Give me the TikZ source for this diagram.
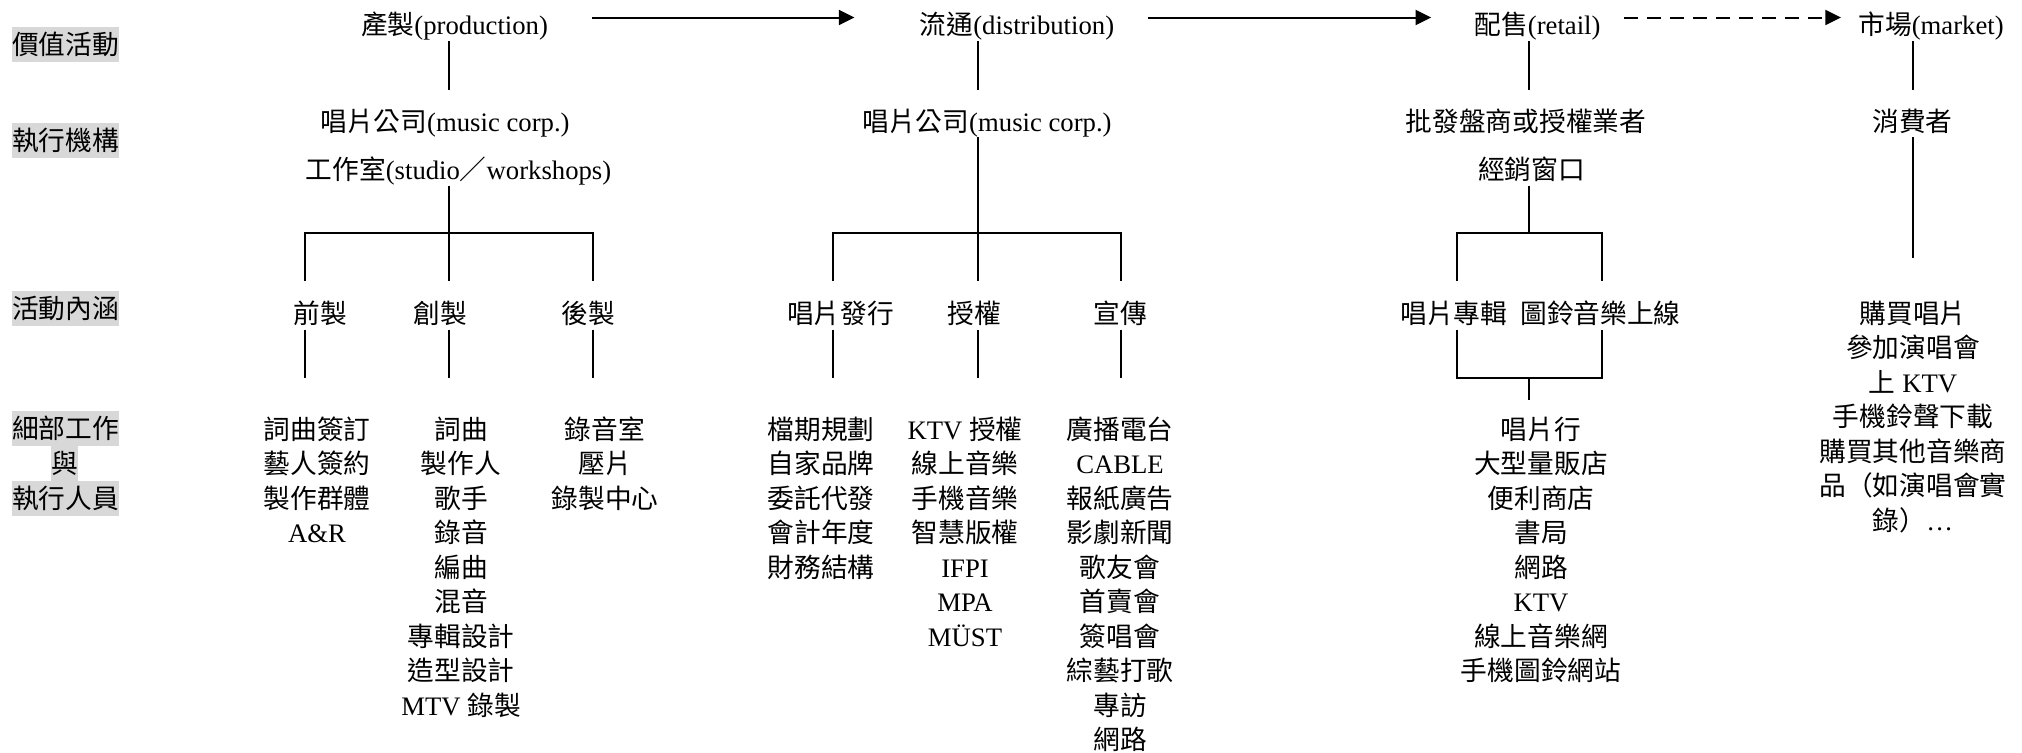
\documentclass[tikz,border=0pt]{standalone}
\usepackage{fontspec}
\setmainfont{Liberation Serif}
\newfontfamily\cjk{Noto Sans CJK TC}
\usetikzlibrary{arrows.meta}
\newcommand\zh[1]{{\cjk #1}}
\newcommand\fsz{\fontsize{13.35pt}{17.25pt}\selectfont}
\newcommand\stk[1]{\begin{tabular}[t]{@{}c@{}}#1\end{tabular}}
\definecolor{lgray}{RGB}{216,216,216}
\begin{document}
\begin{tikzpicture}[x=0.5pt,y=-0.5pt,
  t/.style={font=\fsz, inner sep=0pt, anchor=base, text height=10.1pt, text depth=0pt},
  lst/.style={font=\fsz, inner sep=0pt, anchor=base},
  glab/.style={font=\fsz\cjk, fill=lgray, inner sep=0pt, minimum width=53.4pt, minimum height=17.5pt, text height=10.1pt, text depth=0pt},
  ln/.style={line width=1pt},
  arr/.style={ln, -{Triangle[length=7.8pt,width=7.5pt]}}]
\useasboundingbox (0,0) rectangle (2022,752);

% row labels
\node[glab] (L1) at (65.5,44.5) {價值活動};
\node[glab] (L2) at (65.5,140) {執行機構};
\node[glab] (L3) at (65.5,308.5) {活動內涵};
\node[glab] (L4a) at (65.5,428) {細部工作};
\node[glab, minimum width=13.5pt, minimum height=18pt] (L4b) at (64.5,463) {與};
\node[glab] (L4c) at (65.5,498.5) {執行人員};

% top row
\node[t] (prod) at (454.5,34) {\zh{產製}(production)};
\node[t] (dist) at (1017,34) {\zh{流通}(distribution)};
\node[t] (retail) at (1537.5,34) {\zh{配售}(retail)};
\node[t] (market) at (1931,34) {\zh{市場}(market)};

% row 2 / 3
\node[t] (corp1) at (445,131) {\zh{唱片公司}(music corp.)};
\node[t] (studio) at (458.5,179) {\zh{工作室}(studio\zh{／}workshops)};
\node[t] (corp2) at (987,131) {\zh{唱片公司}(music corp.)};
\node[t] (whole) at (1526,131) {\zh{批發盤商或授權業者}};
\node[t] (outlet) at (1531.5,179) {\zh{經銷窗口}};
\node[t] (cons) at (1912.5,131) {\zh{消費者}};

% row 4
\node[t] (pre) at (320.5,323) {\zh{前製}};
\node[t] (cre) at (440.5,323) {\zh{創製}};
\node[t] (post) at (588,323) {\zh{後製}};
\node[t] (rel) at (840.5,323) {\zh{唱片發行}};
\node[t] (lic) at (974,323) {\zh{授權}};
\node[t] (pro) at (1120.5,323) {\zh{宣傳}};
\node[t] (alb) at (1540.5,323) {\zh{唱片專輯\hspace{0.5em}圖鈴音樂上線}};
\node[lst] (mk) at (1913,323) {\stk{\zh{購買唱片}\\ \zh{參加演唱會}\\ \zh{上} KTV\\ \zh{手機鈴聲下載}\\ \zh{購買其他音樂商}\\ \zh{品（如演唱會實}\\ \zh{錄）}…}};

% row 5 lists
\node[lst] (A) at (317,439) {\stk{\zh{詞曲簽訂}\\ \zh{藝人簽約}\\ \zh{製作群體}\\ A\&R}};
\node[lst] (B) at (461,439) {\stk{\zh{詞曲}\\ \zh{製作人}\\ \zh{歌手}\\ \zh{錄音}\\ \zh{編曲}\\ \zh{混音}\\ \zh{專輯設計}\\ \zh{造型設計}\\ MTV \zh{錄製}}};
\node[lst] (C) at (605,439) {\stk{\zh{錄音室}\\ \zh{壓片}\\ \zh{錄製中心}}};
\node[lst] (D) at (821,439) {\stk{\zh{檔期規劃}\\ \zh{自家品牌}\\ \zh{委託代發}\\ \zh{會計年度}\\ \zh{財務結構}}};
\node[lst] (E) at (965,439) {\stk{KTV \zh{授權}\\ \zh{線上音樂}\\ \zh{手機音樂}\\ \zh{智慧版權}\\ IFPI\\ MPA\\ MÜST}};
\node[lst] (F) at (1120,439) {\stk{\zh{廣播電台}\\ CABLE\\ \zh{報紙廣告}\\ \zh{影劇新聞}\\ \zh{歌友會}\\ \zh{首賣會}\\ \zh{簽唱會}\\ \zh{綜藝打歌}\\ \zh{專訪}\\ \zh{網路}}};
\node[lst] (G) at (1541,439) {\stk{\zh{唱片行}\\ \zh{大型量販店}\\ \zh{便利商店}\\ \zh{書局}\\ \zh{網路}\\ KTV\\ \zh{線上音樂網}\\ \zh{手機圖鈴網站}}};

% junction coordinates
\coordinate (cP) at (449,233);
\coordinate (pL) at (305,233);
\coordinate (pR) at (593,233);
\coordinate (cD) at (978,233);
\coordinate (dL) at (833,233);
\coordinate (dR) at (1121,233);
\coordinate (cR) at (1529,233);
\coordinate (rL) at (1457,233);
\coordinate (rR) at (1602,233);
\coordinate (rL2) at (1457,378);
\coordinate (rR2) at (1602,378);
\coordinate (cR2) at (1529,378);
\coordinate (cM) at (1913,258);

% arrows between stages
\draw[arr, shorten <=22pt, shorten >=32.5pt] ([yshift=8.25pt]prod.base east) -- ([yshift=8.25pt]dist.base west);
\draw[arr, shorten <=16.5pt, shorten >=21.5pt] ([yshift=8.25pt]dist.base east) -- ([yshift=8.25pt]retail.base west);
\draw[arr, dash pattern=on 7pt off 4.5pt, shorten <=11.5pt, shorten >=8.5pt] ([yshift=8.25pt]retail.base east) -- ([yshift=8.25pt]market.base west);

% stage to executor
\draw[ln, shorten <=3.5pt, shorten >=10.4pt] (prod.south -| cP) -- (corp1.north -| cP);
\draw[ln, shorten <=3.5pt, shorten >=10.4pt] (dist.south -| cD) -- (corp2.north -| cD);
\draw[ln, shorten <=3.5pt, shorten >=10.4pt] (retail.south -| cR) -- (whole.north -| cR);
\draw[ln, shorten <=3.5pt, shorten >=10.4pt] (market.south -| cM) -- (cons.north -| cM);

% production tree
\draw[ln, shorten <=3.5pt, shorten >=10.5pt] (studio.south -| cP) -- (cre.north -| cP);
\draw[ln, shorten <=10.5pt, shorten >=10.5pt] (pre.north -| pL) -- (pL) -- (pR) -- (post.north -| pR);
\draw[ln, shorten <=3.5pt, shorten >=18.4pt] (pre.south -| pL) -- (A.north -| pL);
\draw[ln, shorten <=3.5pt, shorten >=18.4pt] (cre.south -| cP) -- (B.north -| cP);
\draw[ln, shorten <=3.5pt, shorten >=18.4pt] (post.south -| pR) -- (C.north -| pR);

% distribution tree
\draw[ln, shorten <=3pt, shorten >=10.5pt] (corp2.south -| cD) -- (lic.north -| cD);
\draw[ln, shorten <=10.5pt, shorten >=10.5pt] (rel.north -| dL) -- (dL) -- (dR) -- (pro.north -| dR);
\draw[ln, shorten <=3.5pt, shorten >=18.4pt] (rel.south -| dL) -- (D.north -| dL);
\draw[ln, shorten <=3.5pt, shorten >=18.4pt] (lic.south -| cD) -- (E.north -| cD);
\draw[ln, shorten <=3.5pt, shorten >=18.4pt] (pro.south -| dR) -- (F.north -| dR);

% retail tree
\draw[ln, shorten <=3.5pt] (outlet.south -| cR) -- (cR);
\draw[ln, shorten <=10.5pt, shorten >=10.5pt] (alb.north -| rL) -- (rL) -- (rR) -- (alb.north -| rR);
\draw[ln, shorten <=3.5pt, shorten >=3.5pt] (alb.south -| rL) -- (rL2) -- (rR2) -- (alb.south -| rR);
\draw[ln, shorten >=7.4pt] (cR2) -- (G.north -| cR2);

% market
\draw[ln, shorten <=3pt, shorten >=20.4pt] (cons.south -| cM) -- (mk.north -| cM);
\end{tikzpicture}
\end{document}
